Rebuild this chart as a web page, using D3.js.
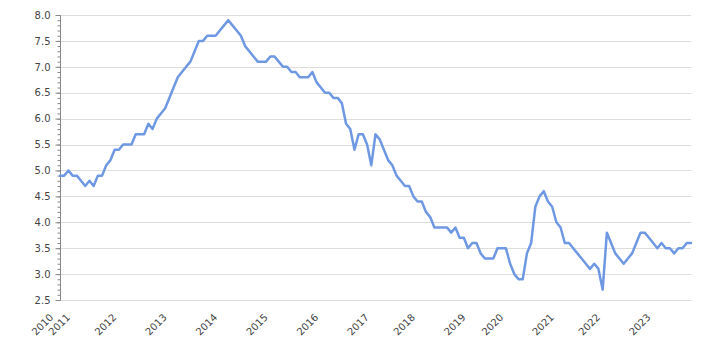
<!DOCTYPE html>
<html>
<head>
<meta charset="utf-8">
<script src="https://cdn.jsdelivr.net/npm/d3@7"></script>
<style>
  body { margin: 0; background: #fff; }
  text { font-family: "DejaVu Sans", Verdana, sans-serif; }
</style>
</head>
<body>
<div id="chart"></div>
<script>
var values = [
  4.9, 4.9, 5.0, 4.9, 4.9, 4.8, 4.7, 4.8, 4.7, 4.9,
  4.9, 5.1, 5.2, 5.4, 5.4, 5.5, 5.5, 5.5, 5.7, 5.7,
  5.7, 5.9, 5.8, 6.0, 6.1, 6.2, 6.4, 6.6, 6.8, 6.9,
  7.0, 7.1, 7.3, 7.5, 7.5, 7.6, 7.6, 7.6, 7.7, 7.8,
  7.9, 7.8, 7.7, 7.6, 7.4, 7.3, 7.2, 7.1, 7.1, 7.1,
  7.2, 7.2, 7.1, 7.0, 7.0, 6.9, 6.9, 6.8, 6.8, 6.8,
  6.9, 6.7, 6.6, 6.5, 6.5, 6.4, 6.4, 6.3, 5.9, 5.8,
  5.4, 5.7, 5.7, 5.5, 5.1, 5.7, 5.6, 5.4, 5.2, 5.1,
  4.9, 4.8, 4.7, 4.7, 4.5, 4.4, 4.4, 4.2, 4.1, 3.9,
  3.9, 3.9, 3.9, 3.8, 3.9, 3.7, 3.7, 3.5, 3.6, 3.6,
  3.4, 3.3, 3.3, 3.3, 3.5, 3.5, 3.5, 3.2, 3.0, 2.9,
  2.9, 3.4, 3.6, 4.3, 4.5, 4.6, 4.4, 4.3, 4.0, 3.9,
  3.6, 3.6, 3.5, 3.4, 3.3, 3.2, 3.1, 3.2, 3.1, 2.7,
  3.8, 3.6, 3.4, 3.3, 3.2, 3.3, 3.4, 3.6, 3.8, 3.8,
  3.7, 3.6, 3.5, 3.6, 3.5, 3.5, 3.4, 3.5, 3.5, 3.6,
  3.6
];

// year labels and the observation index where each year starts
var years = ["2010", "2011", "2012", "2013", "2014", "2015", "2016",
             "2017", "2018", "2019", "2020", "2021", "2022", "2023"];
var yearStart = [0, 4, 15, 27, 39, 51, 63, 75, 86, 98, 107, 119, 130, 142];

var yTicks = [2.5, 3.0, 3.5, 4.0, 4.5, 5.0, 5.5, 6.0, 6.5, 7.0, 7.5, 8.0];

var margin = {top: 15, right: 29, bottom: 50, left: 60},
    width = 720 - margin.left - margin.right,
    height = 350 - margin.top - margin.bottom;

var svg = d3.select("#chart")
    .append("svg")
        .attr("width", width + margin.left + margin.right)
        .attr("height", height + margin.top + margin.bottom)
    .append("g")
        .attr("transform", "translate(" + margin.left + "," + margin.top + ")");

var x = d3.scaleLinear()
    .domain([0, values.length - 1])
    .range([0, width]);

var y = d3.scaleLinear()
    .domain([2.5, 8.0])
    .range([height, 0]);

// horizontal gridlines
svg.selectAll(".grid")
    .data(yTicks)
    .enter()
    .append("line")
        .attr("class", "grid")
        .attr("x1", 0)
        .attr("x2", width)
        .attr("y1", function(d) { return Math.round(y(d)) + 0.5; })
        .attr("y2", function(d) { return Math.round(y(d)) + 0.5; })
        .style("stroke", "#dddddd")
        .style("stroke-width", 1);

// minor ticks every 0.1
var minor = d3.range(25, 81).map(function(d) { return d / 10; });
var yAxisMinor = d3.axisLeft(y)
    .tickValues(minor)
    .tickSize(3)
    .tickFormat("");

var yAxis = d3.axisLeft(y)
    .tickValues(yTicks)
    .tickSize(5)
    .tickPadding(5)
    .tickFormat(d3.format(".1f"));

var gMinor = svg.append("g").attr("transform", "translate(0.5,0)").call(yAxisMinor);
var gAxis = svg.append("g").attr("transform", "translate(0.5,0)").call(yAxis);

gMinor.select(".domain").remove();
gMinor.selectAll("line").style("stroke", "#888");
gAxis.select(".domain").attr("d", "M0," + y(8.0) + "V" + y(2.5)).style("stroke", "#888");
gAxis.selectAll("line").style("stroke", "#888");
gAxis.selectAll("text")
    .style("font-size", "10px")
    .style("fill", "#444");

// year labels, rotated
svg.selectAll(".year")
    .data(years)
    .enter()
    .append("text")
        .attr("class", "year")
        .attr("text-anchor", "end")
        .attr("transform", function(d, i) {
            return "translate(" + (x(yearStart[i]) - 6) + "," + (height + 18) + ") rotate(-45)";
        })
        .style("font-size", "10px")
        .style("fill", "#444")
        .text(function(d) { return d; });

// the line
var line = d3.line()
    .x(function(d, i) { return x(i); })
    .y(function(d) { return y(d); });

svg.append("path")
    .datum(values)
    .attr("d", line)
    .style("fill", "none")
    .style("stroke", "#6f98e3")
    .style("stroke-width", 2.5)
    .style("stroke-linejoin", "round")
    .style("stroke-linecap", "round");
</script>
</body>
</html>
